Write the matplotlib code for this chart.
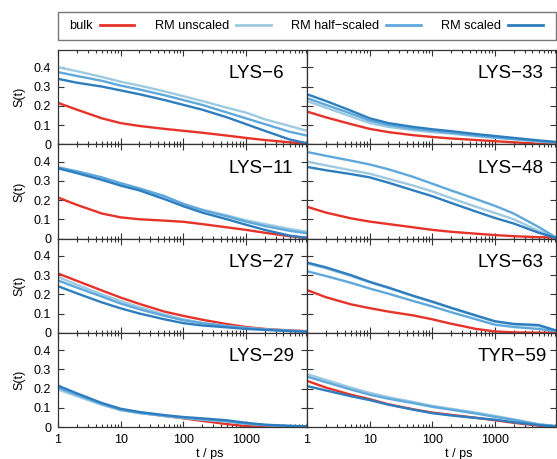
import numpy as np
import matplotlib
matplotlib.use('Agg')
import matplotlib.pyplot as plt
from matplotlib.lines import Line2D
from matplotlib.patches import Rectangle
from matplotlib.ticker import FuncFormatter, NullFormatter, LogLocator

plt.rcParams['font.family'] = ['Liberation Sans', 'DejaVu Sans']

# time points (ps)
t = [1, 2, 5, 10, 20, 50, 100, 200, 500, 1000, 2000, 5000, 9500]

# S(t) values: bulk, RM unscaled, RM half-scaled, RM scaled
lys6_bulk = [0.215, 0.18, 0.135, 0.11, 0.095, 0.08, 0.07, 0.06, 0.045, 0.033, 0.022, 0.01, 0.003]
lys6_uns = [0.40, 0.38, 0.35, 0.325, 0.305, 0.275, 0.25, 0.225, 0.19, 0.165, 0.13, 0.095, 0.07]
lys6_half = [0.375, 0.355, 0.33, 0.305, 0.285, 0.255, 0.23, 0.205, 0.165, 0.135, 0.105, 0.065, 0.045]
lys6_sc = [0.34, 0.32, 0.30, 0.28, 0.26, 0.23, 0.205, 0.18, 0.14, 0.105, 0.07, 0.025, 0.005]

lys33_bulk = [0.17, 0.14, 0.105, 0.08, 0.063, 0.047, 0.038, 0.03, 0.022, 0.016, 0.01, 0.003, 0.0]
lys33_uns = [0.225, 0.19, 0.145, 0.11, 0.09, 0.073, 0.063, 0.055, 0.042, 0.033, 0.025, 0.014, 0.008]
lys33_half = [0.24, 0.205, 0.16, 0.123, 0.10, 0.08, 0.07, 0.06, 0.045, 0.036, 0.028, 0.016, 0.01]
lys33_sc = [0.26, 0.225, 0.175, 0.135, 0.11, 0.09, 0.078, 0.068, 0.053, 0.043, 0.033, 0.02, 0.012]

lys11_bulk = [0.213, 0.175, 0.13, 0.11, 0.10, 0.093, 0.087, 0.075, 0.058, 0.045, 0.03, 0.012, 0.003]
lys11_uns = [0.365, 0.345, 0.315, 0.285, 0.26, 0.22, 0.18, 0.15, 0.12, 0.095, 0.075, 0.05, 0.035]
lys11_half = [0.37, 0.35, 0.318, 0.288, 0.26, 0.22, 0.18, 0.148, 0.115, 0.088, 0.065, 0.04, 0.027]
lys11_sc = [0.365, 0.34, 0.305, 0.275, 0.25, 0.205, 0.168, 0.135, 0.10, 0.072, 0.045, 0.015, 0.003]

lys48_bulk = [0.165, 0.135, 0.105, 0.088, 0.075, 0.058, 0.045, 0.035, 0.025, 0.018, 0.012, 0.007, 0.005]
lys48_uns = [0.40, 0.38, 0.355, 0.337, 0.31, 0.275, 0.245, 0.21, 0.165, 0.133, 0.10, 0.04, 0.005]
lys48_half = [0.45, 0.43, 0.405, 0.385, 0.36, 0.32, 0.285, 0.25, 0.205, 0.17, 0.13, 0.06, 0.005]
lys48_sc = [0.372, 0.355, 0.335, 0.318, 0.29, 0.25, 0.22, 0.185, 0.14, 0.107, 0.078, 0.03, 0.003]

lys27_bulk = [0.308, 0.27, 0.22, 0.183, 0.15, 0.11, 0.088, 0.068, 0.045, 0.03, 0.02, 0.012, 0.008]
lys27_uns = [0.29, 0.25, 0.20, 0.165, 0.133, 0.095, 0.07, 0.052, 0.035, 0.025, 0.018, 0.01, 0.007]
lys27_half = [0.272, 0.235, 0.188, 0.152, 0.122, 0.088, 0.065, 0.05, 0.034, 0.024, 0.017, 0.01, 0.007]
lys27_sc = [0.242, 0.205, 0.158, 0.127, 0.10, 0.07, 0.05, 0.038, 0.028, 0.02, 0.015, 0.009, 0.006]

lys63_bulk = [0.222, 0.185, 0.148, 0.128, 0.11, 0.09, 0.07, 0.047, 0.02, 0.007, 0.002, 0.0, 0.0]
lys63_uns = [0.36, 0.335, 0.295, 0.262, 0.232, 0.19, 0.16, 0.128, 0.087, 0.058, 0.043, 0.035, 0.01]
lys63_half = [0.32, 0.295, 0.26, 0.23, 0.203, 0.165, 0.137, 0.107, 0.07, 0.042, 0.03, 0.02, 0.008]
lys63_sc = [0.365, 0.34, 0.30, 0.265, 0.235, 0.192, 0.162, 0.13, 0.09, 0.06, 0.046, 0.04, 0.012]

lys29_bulk = [0.21, 0.17, 0.12, 0.09, 0.074, 0.058, 0.045, 0.032, 0.015, 0.005, 0.002, 0.0, 0.0]
lys29_uns = [0.195, 0.16, 0.115, 0.087, 0.072, 0.057, 0.047, 0.038, 0.028, 0.017, 0.01, 0.005, 0.003]
lys29_half = [0.205, 0.168, 0.12, 0.09, 0.074, 0.058, 0.048, 0.04, 0.03, 0.018, 0.01, 0.005, 0.003]
lys29_sc = [0.215, 0.175, 0.125, 0.095, 0.078, 0.062, 0.052, 0.045, 0.035, 0.022, 0.012, 0.006, 0.004]

tyr59_bulk = [0.24, 0.205, 0.168, 0.145, 0.118, 0.092, 0.075, 0.063, 0.048, 0.035, 0.022, 0.007, 0.002]
tyr59_uns = [0.275, 0.245, 0.205, 0.178, 0.155, 0.13, 0.11, 0.095, 0.075, 0.058, 0.04, 0.015, 0.005]
tyr59_half = [0.262, 0.233, 0.195, 0.168, 0.147, 0.124, 0.105, 0.09, 0.07, 0.053, 0.037, 0.013, 0.004]
tyr59_sc = [0.213, 0.19, 0.16, 0.14, 0.116, 0.09, 0.072, 0.06, 0.047, 0.038, 0.025, 0.01, 0.003]

names = ['bulk', 'RM unscaled', 'RM half\u2212scaled', 'RM scaled']
colors = ['#e6332a', '#9ecae1', '#5fa8dc', '#2e7ebf']

panels = [
    ('LYS\u22126', [lys6_bulk, lys6_uns, lys6_half, lys6_sc]),
    ('LYS\u221233', [lys33_bulk, lys33_uns, lys33_half, lys33_sc]),
    ('LYS\u221211', [lys11_bulk, lys11_uns, lys11_half, lys11_sc]),
    ('LYS\u221248', [lys48_bulk, lys48_uns, lys48_half, lys48_sc]),
    ('LYS\u221227', [lys27_bulk, lys27_uns, lys27_half, lys27_sc]),
    ('LYS\u221263', [lys63_bulk, lys63_uns, lys63_half, lys63_sc]),
    ('LYS\u221229', [lys29_bulk, lys29_uns, lys29_half, lys29_sc]),
    ('TYR\u221259', [tyr59_bulk, tyr59_uns, tyr59_half, tyr59_sc]),
]

W, H = 557, 459
fig, axes = plt.subplots(4, 2, figsize=(W / 100, H / 100), dpi=100, sharex=True, sharey=True)
fig.subplots_adjust(left=58 / W, right=556 / W, top=1 - 50 / H, bottom=1 - 427 / H,
                    wspace=0, hspace=0)

for k, (label, series) in enumerate(panels):
    ax = axes[k // 2, k % 2]
    for ys, c in zip(series, colors):
        ax.plot(t, ys, color=c, lw=1.7)
    ax.set_xscale('log')
    ax.set_xlim(1, 9500)
    ax.set_ylim(0, 0.49)
    ax.set_yticks([0, 0.1, 0.2, 0.3, 0.4])
    ax.yaxis.set_major_formatter(FuncFormatter(lambda v, p: '%g' % round(v, 2)))
    ax.xaxis.set_major_formatter(FuncFormatter(lambda v, p: '%g' % v))
    ax.xaxis.set_minor_locator(LogLocator(base=10, subs=np.arange(2, 10)))
    ax.xaxis.set_minor_formatter(NullFormatter())
    ax.tick_params(which='both', direction='in', top=True, right=True,
                   labelsize=9, color='#333333', width=0.8)
    ax.tick_params(which='major', length=4, pad=5)
    ax.tick_params(which='minor', length=2.2)
    for s in ax.spines.values():
        s.set_color('#333333')
        s.set_linewidth(0.9)
    ax.text(0.685, 0.70, label, transform=ax.transAxes, fontsize=13.5,
            ha='left', va='baseline')
    if k % 2 == 0:
        ax.set_ylabel('S(t)', fontsize=9)
        ax.yaxis.set_label_coords(-0.13, 0.5)
    if k >= 6:
        ax.set_xlabel('t / ps', fontsize=9)
        ax.xaxis.set_label_coords(0.61, -0.225)

# legend box drawn separately so its size matches the original
fig.patches.append(Rectangle((58 / W, 1 - 40 / H), 498 / W, 28 / H,
                             transform=fig.transFigure, fill=False,
                             edgecolor='#777777', lw=1.0))
handles = [Line2D([], [], color=c, lw=2) for c in colors]
leg = fig.legend(handles, names, loc='center',
                 bbox_to_anchor=(306 / W, 1 - 26 / H),
                 ncol=4, markerfirst=False, frameon=False, borderpad=0,
                 handlelength=2.7, handletextpad=0.55, columnspacing=1.6,
                 fontsize=9.2)

fig.savefig('out.png', dpi=100)
